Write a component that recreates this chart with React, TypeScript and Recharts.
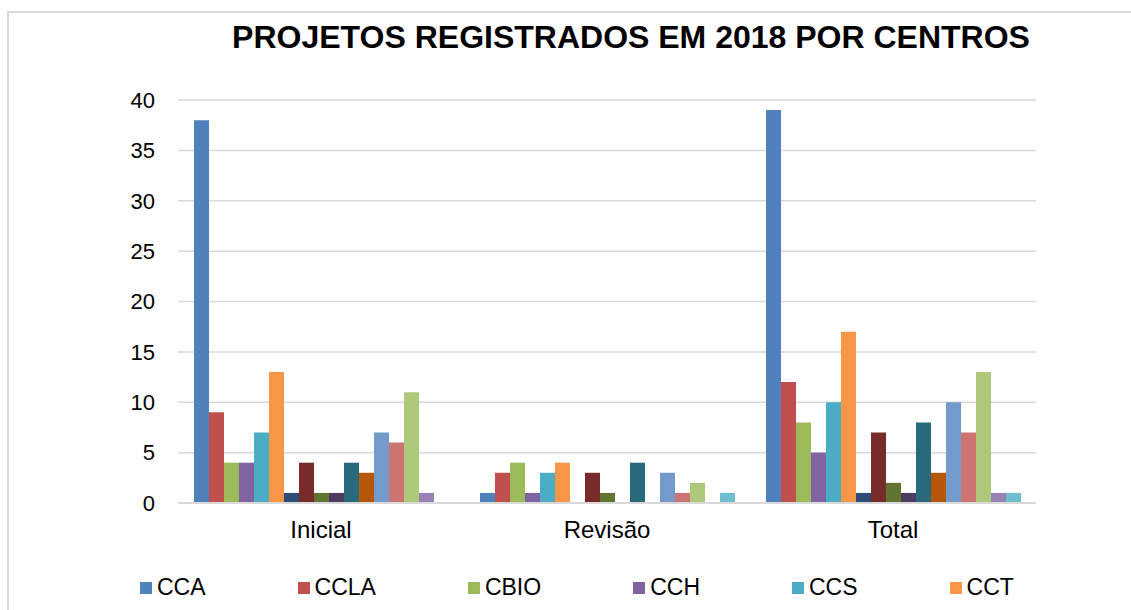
import React from 'react';
import { BarChart, Bar, XAxis, YAxis, CartesianGrid } from 'recharts';

const categories = ['Inicial', 'Revisão', 'Total'];

const seriesNames = [
  'CCA', 'CCLA', 'CBIO', 'CCH', 'CCS', 'CCT',
  'CCEN', 'CCHLA', 'CCJ', 'CCM', 'CCSA', 'CE',
  'CT', 'CEAR', 'CTDR', 'CCAE', 'CBIOTEC',
];

// one array per centro: [Inicial, Revisão, Total]
const cca = [38, 1, 39];
const ccla = [9, 3, 12];
const cbio = [4, 4, 8];
const cch = [4, 1, 5];
const ccs = [7, 3, 10];
const cct = [13, 4, 17];
const ccen = [1, 0, 1];
const cchla = [4, 3, 7];
const ccj = [1, 1, 2];
const ccm = [1, 0, 1];
const ccsa = [4, 4, 8];
const ce = [3, 0, 3];
const ct = [7, 3, 10];
const cear = [6, 1, 7];
const ctdr = [11, 2, 13];
const ccae = [1, 0, 1];
const cbiotec = [0, 1, 1];

const seriesValues = [
  cca, ccla, cbio, cch, ccs, cct, ccen, cchla, ccj,
  ccm, ccsa, ce, ct, cear, ctdr, ccae, cbiotec,
];

const colors = [
  '#4F81BD', '#C0504D', '#9BBB59', '#8064A2', '#4BACC6', '#F79646',
  '#2C4D75', '#772C2A', '#5F7530', '#4D3B62', '#276A7C', '#B65708',
  '#729ACA', '#CD7371', '#AFC97A', '#9983B5', '#6FBDD1',
];

const yTicks = [0, 5, 10, 15, 20, 25, 30, 35, 40];
const legendCount = 6; // the legend in the picture is cut after CCT

const data = categories.map((cat, i) => {
  const row: Record<string, string | number> = { name: cat };
  seriesNames.forEach((s, j) => {
    row[s] = seriesValues[j][i];
  });
  return row;
});

const font = '"Liberation Sans", Arial, sans-serif';

const App: React.FC = () => {
  return (
    <div
      style={{
        position: 'absolute',
        left: 0,
        top: 0,
        width: 1131,
        height: 610,
        background: '#fff',
        fontFamily: font,
        overflow: 'hidden',
      }}
    >
      <div
        style={{
          position: 'absolute',
          left: 7,
          top: 11,
          width: 1140,
          height: 620,
          borderTop: '2px solid #d9d9d9',
          borderLeft: '2px solid #d9d9d9',
        }}
      />
      <div
        style={{
          position: 'absolute',
          left: 0,
          top: 21,
          width: 1262,
          textAlign: 'center',
          fontSize: 32,
          lineHeight: 1,
          fontWeight: 'bold',
          color: '#000',
        }}
      >
        PROJETOS REGISTRADOS EM 2018 POR CENTROS
      </div>

      <div style={{ position: 'absolute', left: 0, top: 0 }}>
        <BarChart
          width={1131}
          height={610}
          data={data}
          margin={{ top: 100, right: 95, bottom: 62, left: 0 }}
          barCategoryGap={16}
          barGap={0}
        >
          <CartesianGrid vertical={false} stroke="#d9d9d9" strokeWidth={1.5} />
          <XAxis
            dataKey="name"
            height={45}
            axisLine={{ stroke: '#d9d9d9', strokeWidth: 2 }}
            tickLine={false}
            tickMargin={12}
            tick={{ fill: '#000', fontSize: 24, fontFamily: font }}
          />
          <YAxis
            width={178}
            domain={[0, 40]}
            ticks={yTicks}
            axisLine={false}
            tickLine={false}
            tickMargin={17}
            tick={{ fill: '#000', fontSize: 22, fontFamily: font }}
          />
          {seriesNames.map((s, j) => (
            <Bar key={s} dataKey={s} fill={colors[j]} isAnimationActive={false} />
          ))}
        </BarChart>
      </div>

      <div
        style={{
          position: 'absolute',
          left: 140,
          top: 574,
          display: 'flex',
          alignItems: 'center',
          gap: 92,
          fontSize: 23,
          color: '#000',
          whiteSpace: 'nowrap',
        }}
      >
        {seriesNames.slice(0, legendCount).map((s, j) => (
          <div key={s} style={{ display: 'flex', alignItems: 'center' }}>
            <span
              style={{
                display: 'inline-block',
                width: 12,
                height: 12,
                background: colors[j],
                marginRight: 5,
              }}
            />
            <span>{s}</span>
          </div>
        ))}
      </div>
    </div>
  );
};

export default App;
